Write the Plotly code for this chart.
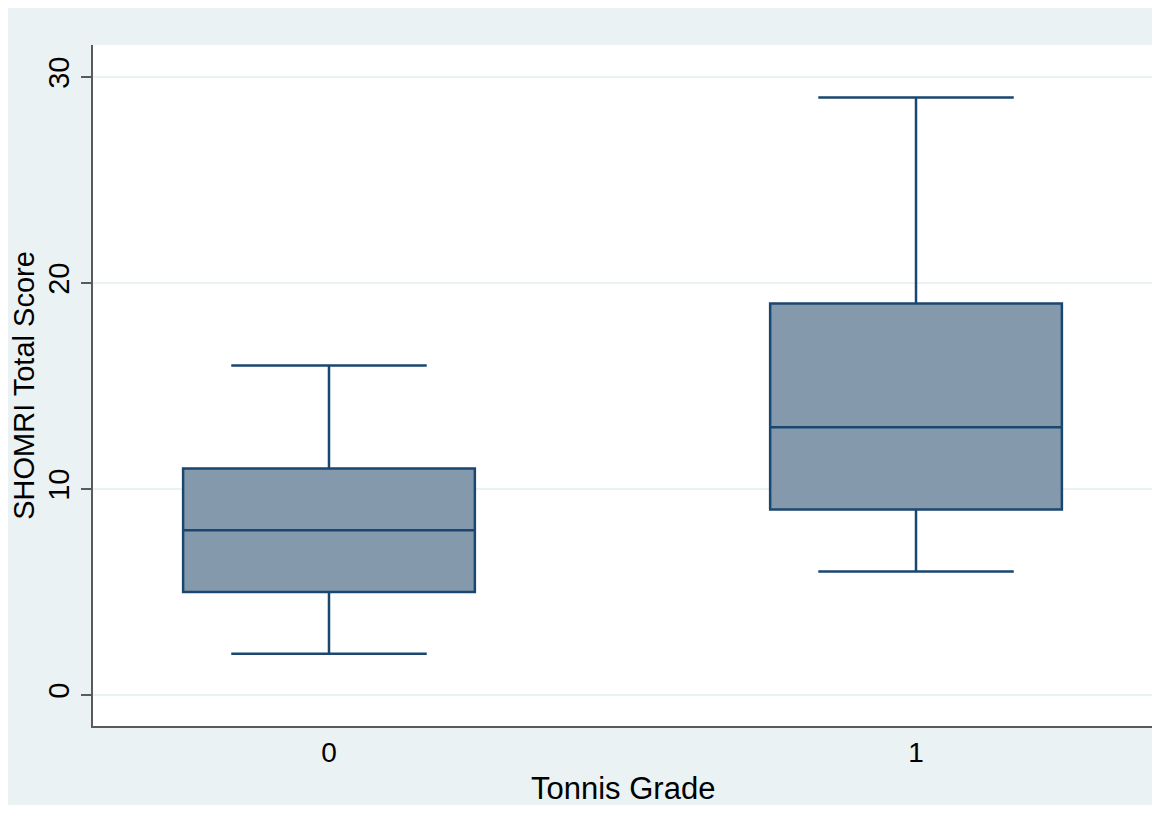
import plotly.graph_objects as go

categories = [0, 1]
q1 = [5, 9]
median = [8, 13]
q3 = [11, 19]
lower_whisker = [2, 6]
upper_whisker = [16, 29]
y_ticks = [0, 10, 20, 30]

line_col = "#1a476f"
fill_col = "#8599ad"
bg_col = "#eaf2f3"

fig = go.Figure()
for i, c in enumerate(categories):
    fig.add_trace(go.Box(
        x=[c], q1=[q1[i]], median=[median[i]], q3=[q3[i]],
        lowerfence=[lower_whisker[i]], upperfence=[upper_whisker[i]],
        width=0.497, whiskerwidth=0.67,
        fillcolor=fill_col, line=dict(color=line_col, width=2.5),
        boxpoints=False, showlegend=False, hoverinfo="skip",
    ))

font_family = "Liberation Sans, Arial, Helvetica, sans-serif"

fig.update_layout(
    width=1152, height=797,
    margin=dict(l=85, r=8, t=37, b=79),
    paper_bgcolor=bg_col, plot_bgcolor="white",
    font=dict(family=font_family, color="black", size=29),
    xaxis=dict(
        range=[-0.402, 1.402], tickmode="array", tickvals=categories,
        ticktext=[str(c) for c in categories],
        showgrid=False, zeroline=False, showline=True, linecolor="#5a5a5a", linewidth=2,
        ticks="", automargin=False,
        tickfont=dict(size=28),
    ),
    yaxis=dict(
        range=[-1.505, 31.553], tickmode="array", tickvals=y_ticks,
        ticktext=[str(v) for v in y_ticks], tickangle=-90,
        showgrid=True, gridcolor=bg_col, gridwidth=1.5, zeroline=False,
        showline=True, linecolor="#5a5a5a", linewidth=2,
        ticks="outside", ticklen=10, tickcolor="#5a5a5a", tickwidth=1.5,
        tickfont=dict(size=29),
        title=dict(text="SHOMRI Total Score", font=dict(size=29), standoff=8),
    ),
    annotations=[dict(
        text="Tonnis Grade", xref="paper", yref="paper", x=0.5, y=0,
        xanchor="center", yanchor="middle", yshift=-62, showarrow=False,
        font=dict(size=31, color="black"),
    )],
)

fig.write_html("out.html")
